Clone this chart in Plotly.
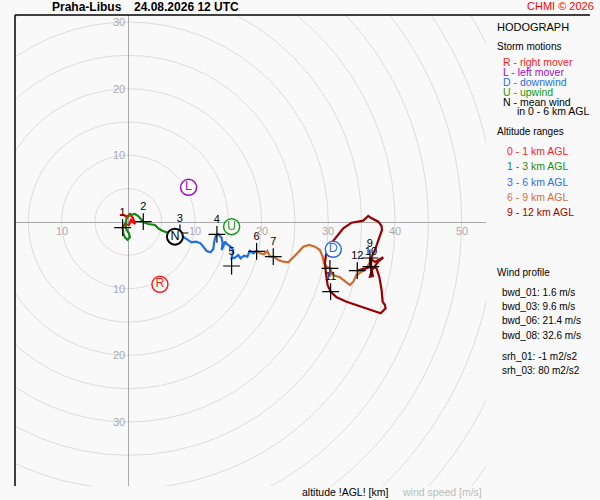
import plotly.graph_objects as go

# hodograph segments (u, v in m/s)
u_0_1 = [-1.25, -0.65, -0.2, 0.25, 0.7, 1.0, 0.4, 0.1, -0.5, -0.85]
v_0_1 = [1.05, 1.05, 0.75, 1.2, 0.6, -0.3, 0.3, -0.45, -0.3, -0.85]

u_1_3 = [-0.85, -0.75, -0.5, -0.1, 0.25, 0.1, -0.25, -0.4, -0.25, 0.25, 1.0, 1.5, 2.0, 2.25,
         3.0, 4.0, 4.5, 5.1, 5.75, 6.25, 7.0, 7.75]
v_1_3 = [-0.85, -1.7, -2.3, -2.7, -2.3, -1.7, -1.2, -0.45, 0.55, 1.05, 1.2, 0.9, 0.3, 0.0,
         -0.3, -0.45, -0.95, -1.3, -1.55, -1.8, -2.0, -1.9]

u_3_6 = [7.75, 8.5, 9.0, 9.5, 10.15, 10.85, 11.25, 11.75, 12.35, 12.75, 12.9, 13.15, 13.45,
         14.0, 14.15, 14.0, 14.25, 14.5, 14.85, 15.35, 15.75, 15.65, 15.5, 16.0, 16.5, 16.85,
         17.35, 17.85, 18.25, 18.75, 19.25]
v_3_6 = [-1.9, -2.35, -2.7, -3.05, -2.95, -3.2, -3.7, -4.35, -4.55, -4.05, -2.95, -2.05, -1.8,
         -2.35, -3.2, -4.2, -3.7, -2.95, -3.35, -3.7, -4.2, -4.95, -5.45, -5.35, -4.95, -5.45,
         -5.05, -5.2, -4.35, -4.7, -4.35]

u_6_9 = [19.25, 19.75, 20.35, 20.85, 21.25, 21.85, 22.5, 23.25, 24.0, 24.75, 25.5, 26.25, 27.15,
         28.0, 28.75, 29.15, 29.35, 29.75, 30.25, 30.7, 31.75, 33.25, 33.75, 34.25, 35.0, 35.75,
         36.25, 36.25]
v_6_9 = [-4.35, -4.7, -4.85, -4.35, -5.2, -5.2, -5.7, -5.95, -6.05, -5.35, -4.55, -3.7, -3.45,
         -3.7, -4.2, -5.2, -6.2, -6.7, -6.95, -7.95, -8.3, -9.45, -8.95, -7.95, -7.45, -6.95,
         -6.0, -5.4]

u_9_12 = [36.25, 37.0, 38.25, 37.45, 36.55, 36.25, 36.7, 36.4, 36.5, 37.0, 37.35, 37.75, 38.05,
          38.0, 37.5, 36.5, 36.0, 35.25, 33.5, 32.25, 31.25, 30.25, 29.65, 29.5, 29.65, 29.9,
          30.35, 31.25, 32.75, 34.75, 36.5, 37.85, 38.6, 38.5, 38.15, 38.0, 37.65, 37.25, 36.5,
          35.5, 34.35]
v_9_12 = [-5.4, -6.0, -5.3, -6.0, -7.2, -8.2, -8.1, -6.7, -5.2, -4.2, -3.2, -2.2, -1.2,
          -0.6, 0.05, 0.55, 0.9, 0.2, -0.1, -0.95, -2.2, -3.45, -4.95, -6.2, -7.7, -9.45,
          -10.45, -11.3, -11.95, -12.6, -13.2, -13.7, -12.95, -12.45, -11.95, -10.2, -8.2, -6.95, -6.7,
          -6.95, -7.3]

# height marks every km
height_km = ["1", "2", "3", "4", "5", "6", "7", "8", "9", "10", "11", "12"]
height_u = [-0.85, 2.25, 7.75, 13.3, 15.5, 19.25, 21.75, 30.25, 36.25, 36.4, 30.35, 34.35]
height_v = [-0.85, 0.05, -1.65, -1.85, -6.6, -4.4, -5.2, -6.95, -5.4, -6.7, -10.45, -7.3]

# storm motions
storm_labels = ["R", "L", "D", "U", "N"]
storm_u = [4.75, 9.05, 30.75, 15.5, 7.0]
storm_v = [-9.35, 5.2, -4.1, -0.7, -2.2]

ring_speeds = list(range(5, 75, 5))
tick_speeds = [10, 20, 30, 40, 50]

bwd_lines = ["bwd_01: 1.6 m/s", "bwd_03: 9.6 m/s", "bwd_06: 21.4 m/s", "bwd_08: 32.6 m/s"]
srh_lines = ["srh_01: -1 m2/s2", "srh_03: 80 m2/s2"]

storm_colors = {"R": "#ff1a1a", "L": "#a010c0", "D": "#2a70e0", "U": "#109a10", "N": "#000000"}
seg_colors = ["#ff0000", "#118811", "#1f6fe0", "#cf6a2e", "#990000"]

FONT = "Liberation Sans, Arial, sans-serif"
W, H = 600, 500


def px(x):
    return x / W


def py(y):
    return 1 - y / H


fig = go.Figure()

segments = [(u_0_1, v_0_1), (u_1_3, v_1_3), (u_3_6, v_3_6), (u_6_9, v_6_9), (u_9_12, v_9_12)]
for (us, vs), col in zip(segments, seg_colors):
    fig.add_trace(go.Scatter(x=us, y=vs, mode="lines", line=dict(color=col, width=2.2),
                             hoverinfo="skip", showlegend=False))

fig.add_trace(go.Scatter(
    x=height_u, y=height_v, mode="markers+text", text=height_km, textposition="top center",
    textfont=dict(family=FONT, size=11, color="black"),
    marker=dict(symbol="cross-thin", size=12, line=dict(color="black", width=1.2)),
    showlegend=False, hoverinfo="skip"))

for lab, su, sv in zip(storm_labels, storm_u, storm_v):
    c = storm_colors[lab]
    fig.add_trace(go.Scatter(
        x=[su], y=[sv], mode="markers+text", text=[lab], textposition="middle center",
        textfont=dict(family=FONT, size=12.5, color=c),
        marker=dict(symbol="circle", size=16, color="white",
                    line=dict(color=c, width=2 if lab == "N" else 1.5)),
        showlegend=False, hoverinfo="skip"))

shapes = []
for r in ring_speeds:
    shapes.append(dict(type="circle", xref="x", yref="y", x0=-r, x1=r, y0=-r, y1=r,
                       line=dict(color="#dcdcdc", width=1), layer="below"))
# frame lines (top and left)
shapes.append(dict(type="line", xref="paper", yref="paper", x0=px(15), x1=px(590),
                   y0=py(15), y1=py(15), line=dict(color="black", width=1.5)))
shapes.append(dict(type="line", xref="paper", yref="paper", x0=px(15), x1=px(15),
                   y0=py(15), y1=py(486), line=dict(color="black", width=1.5)))

ann = []
grey = "#aaaaaa"
for s in tick_speeds:
    ann.append(dict(x=s, y=0, xref="x", yref="y", text=str(s), showarrow=False, yshift=-9,
                    font=dict(family=FONT, size=11, color=grey)))
ann.append(dict(x=-10, y=0, xref="x", yref="y", text="10", showarrow=False, yshift=-9,
                font=dict(family=FONT, size=11, color=grey)))
for s in [10, 20, 30]:
    for sign in (1, -1):
        ann.append(dict(x=0, y=sign * s, xref="x", yref="y", text=str(s), showarrow=False,
                        xanchor="right", xshift=-1, font=dict(family=FONT, size=11, color=grey)))


def txt(x, y, s, size=10, color="black", bold=False, anchor="left"):
    if bold:
        s = "<b>" + s + "</b>"
    ann.append(dict(x=px(x), y=py(y), xref="paper", yref="paper", text=s, showarrow=False,
                    xanchor=anchor, yanchor="middle", font=dict(family=FONT, size=size, color=color)))


txt(50, 7, "Praha-Libus", 12, bold=True)
txt(132, 7, "24.08.2026 12 UTC", 12, bold=True)
txt(596, 6, "CHMI © 2026", 11, color="#ff0000", anchor="right")

txt(495, 27, "HODOGRAPH", 11)
txt(495, 47, "Storm motions", 10)
txt(501, 61.5, "R - right mover", 10.5, color=storm_colors["R"])
txt(501, 71.5, "L - left mover", 10.5, color=storm_colors["L"])
txt(501, 81.5, "D - downwind", 10.5, color=storm_colors["D"])
txt(501, 91.5, "U - upwind", 10.5, color=storm_colors["U"])
txt(501, 101.5, "N - mean wind", 10.5)
txt(515, 111.5, "in 0 - 6 km AGL", 10.5)

txt(495, 131.5, "Altitude ranges", 10)
range_labels = ["0 - 1 km AGL", "1 - 3 km AGL", "3 - 6 km AGL", "6 - 9 km AGL", "9 - 12 km AGL"]
range_text_colors = ["#ff2020", "#1a8c1a", "#2a70e0", "#d0703a", "#a00000"]
for i, (lab, col) in enumerate(zip(range_labels, range_text_colors)):
    txt(505, 151.5 + 15 * i, lab, 10.5, color=col)

txt(495, 272.5, "Wind profile", 10)
for i, lab in enumerate(bwd_lines):
    txt(500, 292.5 + 14.2 * i, lab, 10)
for i, lab in enumerate(srh_lines):
    txt(500, 356.5 + 14 * i, lab, 10)

txt(300, 492, "altitude !AGL! [km]", 10.5)
txt(400, 492, "wind speed [m/s]", 10.5, color="#bbbbbb")

fig.update_layout(
    width=W, height=H, margin=dict(l=0, r=0, t=0, b=0),
    paper_bgcolor="#f9f9f9", plot_bgcolor="#f9f9f9",
    shapes=shapes, annotations=ann, showlegend=False,
    xaxis=dict(domain=[px(15), px(486)], range=[-16.99, 53.66], showgrid=False,
               zeroline=True, zerolinecolor="#a8a8a8", zerolinewidth=1,
               showticklabels=False, ticks="", fixedrange=True),
    yaxis=dict(domain=[py(486), py(15)], range=[-39.6, 31.05], showgrid=False,
               zeroline=True, zerolinecolor="#a8a8a8", zerolinewidth=1,
               showticklabels=False, ticks="", fixedrange=True),
)

# page body has a default margin; drop it so the figure sits at the window's corner
fig.write_html("out.html", config={"displayModeBar": False},
               post_script="document.body.style.margin='0';")
